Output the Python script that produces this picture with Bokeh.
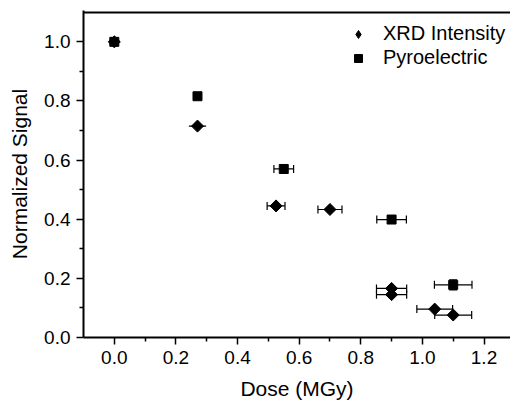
import math
from bokeh.plotting import figure
from bokeh.models import (ColumnDataSource, Whisker, TeeHead,
                          Legend, LegendItem, Range1d, PrintfTickFormatter)
from bokeh.embed import file_html
from bokeh.resources import INLINE

# ---- data ----
dose_xrd = [0.0, 0.27, 0.525, 0.70, 0.90, 0.90, 1.04, 1.10]
xrd_signal = [1.0, 0.715, 0.445, 0.433, 0.166, 0.145, 0.096, 0.076]
xrd_xerr = [0.0, 0.028, 0.029, 0.039, 0.049, 0.049, 0.058, 0.060]

dose_pyro = [0.0, 0.27, 0.55, 0.90, 1.10]
pyro_signal = [1.0, 0.816, 0.570, 0.399, 0.178]
pyro_xerr = [0.0, 0.0, 0.032, 0.048, 0.061]
pyro_yerr = [0.0, 0.0, 0.0, 0.0, 0.017]

x_ticks = [0.0, 0.2, 0.4, 0.6, 0.8, 1.0, 1.2]
y_ticks = [0.0, 0.2, 0.4, 0.6, 0.8, 1.0]
y_top = [1.1]

FONT = "Liberation Sans"

p = figure(width=510, height=408, output_backend="svg", toolbar_location=None,
           x_range=Range1d(-0.1, 1.286), y_range=Range1d(0.0, 1.106),
           min_border_left=83, min_border_right=0, min_border_top=10, min_border_bottom=71,
           x_axis_label="Dose (MGy)", y_axis_label="Normalized Signal")
p.outline_line_color = None
p.grid.visible = False
p.background_fill_color = "white"

for ax in (p.xaxis[0], p.yaxis[0]):
    ax.axis_line_width = 2
    ax.axis_line_color = "black"
    ax.major_tick_line_width = 1.5
    ax.minor_tick_line_width = 1.5
    ax.major_tick_out = 7
    ax.major_tick_in = 0
    ax.minor_tick_out = 4
    ax.minor_tick_in = 0
    ax.major_label_text_font = FONT
    ax.major_label_text_font_size = "19px"
    ax.major_label_text_color = "black"
    ax.axis_label_text_font = FONT
    ax.axis_label_text_font_size = "21px"
    ax.axis_label_text_font_style = "normal"
    ax.axis_label_text_color = "black"
    ax.formatter = PrintfTickFormatter(format="%.1f")

p.xaxis[0].ticker = x_ticks
p.yaxis[0].ticker = y_ticks
p.xaxis[0].ticker.minor_ticks = [0.1, 0.3, 0.5, 0.7, 0.9, 1.1]
p.yaxis[0].ticker.minor_ticks = [0.1, 0.3, 0.5, 0.7, 0.9]
p.xaxis[0].major_label_standoff = 6
p.yaxis[0].major_label_standoff = 6
p.xaxis[0].axis_label_standoff = 10
p.yaxis[0].axis_label_standoff = 10

# top border line of the frame
p.hspan(y=y_top, line_color="black", line_width=2)

# ---- error bars ----
def whisk(xs, ys, errs, caps, dim="width"):
    sel = [i for i in range(len(xs)) if errs[i] > 0]
    if not sel:
        return
    if dim == "width":
        src = ColumnDataSource(dict(base=[ys[i] for i in sel],
                                    lo=[xs[i] - errs[i] for i in sel],
                                    hi=[xs[i] + errs[i] for i in sel]))
    else:
        src = ColumnDataSource(dict(base=[xs[i] for i in sel],
                                    lo=[ys[i] - errs[i] for i in sel],
                                    hi=[ys[i] + errs[i] for i in sel]))
    if caps:
        uh = TeeHead(size=8, line_width=1.2, line_color="black")
        lh = TeeHead(size=8, line_width=1.2, line_color="black")
    else:
        uh = None
        lh = None
    w = Whisker(base="base", lower="lo", upper="hi", dimension=dim, source=src,
                line_width=1.2, line_color="black", upper_head=uh, lower_head=lh)
    p.add_layout(w)

xe_cap = [e if d > 0.3 else 0 for d, e in zip(dose_xrd, xrd_xerr)]
xe_nocap = [e if d <= 0.3 else 0 for d, e in zip(dose_xrd, xrd_xerr)]
whisk(dose_xrd, xrd_signal, xe_cap, True)
whisk(dose_xrd, xrd_signal, xe_nocap, False)
whisk(dose_pyro, pyro_signal, pyro_xerr, True)
whisk(dose_pyro, pyro_signal, pyro_yerr, True, dim="height")

# ---- markers ----
r_x = p.scatter(dose_xrd, xrd_signal, marker="square", angle=math.pi / 4, size=8.5,
                fill_color="black", line_color="black")
r_p = p.scatter(dose_pyro, pyro_signal, marker="square", size=9,
                fill_color="black", line_color="black")
# legend-only glyph for the diamond symbol (no data drawn)
r_xl = p.scatter([float("nan")], [float("nan")], marker="diamond", size=15,
                 fill_color="black", line_color="black")

legend = Legend(items=[LegendItem(label="XRD Intensity", renderers=[r_xl]),
                       LegendItem(label="Pyroelectric", renderers=[r_p])],
                location=(265, 268), border_line_color=None, background_fill_alpha=0,
                padding=0, margin=0, glyph_width=20, glyph_height=20, label_height=20,
                label_standoff=15, spacing=1, label_text_font=FONT,
                label_text_font_size="20px", label_text_color="black")
p.add_layout(legend)

open("out.html", "w").write(file_html(p, INLINE))
